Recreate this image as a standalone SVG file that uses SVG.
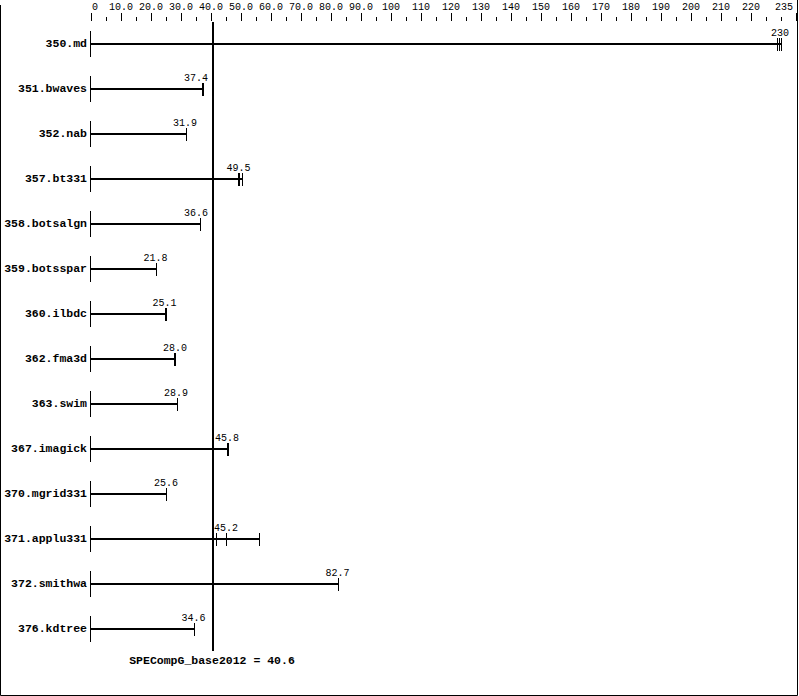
<svg xmlns="http://www.w3.org/2000/svg" width="799" height="696" viewBox="0 0 799 696">
<style>
.ax{font-family:"Liberation Mono","DejaVu Sans Mono",monospace;font-size:10px;fill:#000;text-anchor:middle}
.val{font-family:"Liberation Mono","DejaVu Sans Mono",monospace;font-size:10px;fill:#000;text-anchor:middle}
.lbl{font-family:"Liberation Mono","DejaVu Sans Mono",monospace;font-size:11.5px;font-weight:bold;fill:#000;text-anchor:end}
.ref{font-family:"Liberation Mono","DejaVu Sans Mono",monospace;font-size:11.5px;font-weight:bold;fill:#000;text-anchor:middle}
.bar{stroke:#000;stroke-width:2;fill:none}
.tk{stroke:#000;stroke-width:1;fill:none}
.tk2{stroke:#000;stroke-width:2;fill:none}
</style>
<defs>
<path id="lt" d="M0,-13 V13" class="tk"/>
</defs>
<rect x="0" y="0" width="799" height="696" fill="#fff"/>
<path d="M0.5,5 V695.5 H797.5 V0" fill="none" stroke="#000" stroke-width="1"/>
<g id="axis">
<path class="tk" d="M91.5,13V21M106.5,17V21M121.5,13V21M136.5,17V21M151.5,13V21M166.5,17V21M181.5,13V21M196.5,17V21M211.5,13V21M226.5,17V21M241.5,13V21M256.5,17V21M271.5,13V21M286.5,17V21M301.5,13V21M316.5,17V21M331.5,13V21M346.5,17V21M361.5,13V21M376.5,17V21M391.5,13V21M406.5,17V21M421.5,13V21M436.5,17V21M451.5,13V21M466.5,17V21M481.5,13V21M496.5,17V21M511.5,13V21M526.5,17V21M541.5,13V21M556.5,17V21M571.5,13V21M586.5,17V21M601.5,13V21M616.5,17V21M631.5,13V21M646.5,17V21M661.5,13V21M676.5,17V21M691.5,13V21M706.5,17V21M721.5,13V21M736.5,17V21M751.5,13V21M766.5,17V21M781.5,17V21M796.5,13V21"/>
<text class="ax" x="95" y="10">0</text>
<text class="ax" x="121" y="10">10.0</text>
<text class="ax" x="151" y="10">20.0</text>
<text class="ax" x="181" y="10">30.0</text>
<text class="ax" x="211" y="10">40.0</text>
<text class="ax" x="241" y="10">50.0</text>
<text class="ax" x="271" y="10">60.0</text>
<text class="ax" x="301" y="10">70.0</text>
<text class="ax" x="331" y="10">80.0</text>
<text class="ax" x="361" y="10">90.0</text>
<text class="ax" x="391" y="10">100</text>
<text class="ax" x="421" y="10">110</text>
<text class="ax" x="451" y="10">120</text>
<text class="ax" x="481" y="10">130</text>
<text class="ax" x="511" y="10">140</text>
<text class="ax" x="541" y="10">150</text>
<text class="ax" x="571" y="10">160</text>
<text class="ax" x="601" y="10">170</text>
<text class="ax" x="631" y="10">180</text>
<text class="ax" x="661" y="10">190</text>
<text class="ax" x="691" y="10">200</text>
<text class="ax" x="721" y="10">210</text>
<text class="ax" x="751" y="10">220</text>
<text class="ax" x="784" y="10">235</text>
</g>
<g id="connectors">
<line x1="213" y1="22" x2="213" y2="651" stroke="#000" stroke-width="2"/>
</g>
<g id="r350"><text class="lbl" x="87" y="47">350.md</text><use href="#lt" x="90.5" y="44"/><line class="bar" x1="91" y1="44" x2="782" y2="44"/><path class="tk" d="M777.5,38V51M779.5,38V51M781.5,38V51"/><text class="val" x="780" y="36">230</text></g>
<g id="r351"><text class="lbl" x="87" y="92">351.bwaves</text><use href="#lt" x="90.5" y="89"/><line class="bar" x1="91" y1="89" x2="203" y2="89"/><path class="tk2" d="M203,83V96"/><text class="val" x="196" y="81">37.4</text></g>
<g id="r352"><text class="lbl" x="87" y="137">352.nab</text><use href="#lt" x="90.5" y="134"/><line class="bar" x1="91" y1="134" x2="186" y2="134"/><path class="tk" d="M186.5,128V141"/><text class="val" x="185" y="126">31.9</text></g>
<g id="r357"><text class="lbl" x="87" y="182">357.bt331</text><use href="#lt" x="90.5" y="179"/><line class="bar" x1="91" y1="179" x2="243" y2="179"/><path class="tk2" d="M239,173V186"/><path class="tk" d="M242.5,173V186"/><text class="val" x="238.5" y="171">49.5</text></g>
<g id="r358"><text class="lbl" x="87" y="227">358.botsalgn</text><use href="#lt" x="90.5" y="224"/><line class="bar" x1="91" y1="224" x2="200" y2="224"/><path class="tk" d="M200.5,218V231"/><text class="val" x="196" y="216">36.6</text></g>
<g id="r359"><text class="lbl" x="87" y="272">359.botsspar</text><use href="#lt" x="90.5" y="269"/><line class="bar" x1="91" y1="269" x2="156" y2="269"/><path class="tk" d="M156.5,263V276"/><text class="val" x="155.5" y="261">21.8</text></g>
<g id="r360"><text class="lbl" x="87" y="317">360.ilbdc</text><use href="#lt" x="90.5" y="314"/><line class="bar" x1="91" y1="314" x2="166" y2="314"/><path class="tk2" d="M166,308V321"/><text class="val" x="164.5" y="306">25.1</text></g>
<g id="r362"><text class="lbl" x="87" y="362">362.fma3d</text><use href="#lt" x="90.5" y="359"/><line class="bar" x1="91" y1="359" x2="175" y2="359"/><path class="tk2" d="M175,353V366"/><text class="val" x="175" y="351">28.0</text></g>
<g id="r363"><text class="lbl" x="87" y="407">363.swim</text><use href="#lt" x="90.5" y="404"/><line class="bar" x1="91" y1="404" x2="177" y2="404"/><path class="tk" d="M177.5,398V411"/><text class="val" x="176" y="396">28.9</text></g>
<g id="r367"><text class="lbl" x="87" y="452">367.imagick</text><use href="#lt" x="90.5" y="449"/><line class="bar" x1="91" y1="449" x2="228" y2="449"/><path class="tk2" d="M228,443V456"/><text class="val" x="227" y="441">45.8</text></g>
<g id="r370"><text class="lbl" x="87" y="497">370.mgrid331</text><use href="#lt" x="90.5" y="494"/><line class="bar" x1="91" y1="494" x2="167" y2="494"/><path class="tk" d="M166.5,488V501"/><text class="val" x="166" y="486">25.6</text></g>
<g id="r371"><text class="lbl" x="87" y="542">371.applu331</text><use href="#lt" x="90.5" y="539"/><line class="bar" x1="91" y1="539" x2="259" y2="539"/><path class="tk" d="M216.5,533V546M226.5,533V546M259.5,533V546"/><text class="val" x="226" y="531">45.2</text></g>
<g id="r372"><text class="lbl" x="87" y="587">372.smithwa</text><use href="#lt" x="90.5" y="584"/><line class="bar" x1="91" y1="584" x2="338" y2="584"/><path class="tk" d="M338.5,578V591"/><text class="val" x="337.5" y="576">82.7</text></g>
<g id="r376"><text class="lbl" x="87" y="632">376.kdtree</text><use href="#lt" x="90.5" y="629"/><line class="bar" x1="91" y1="629" x2="194" y2="629"/><path class="tk" d="M194.5,623V636"/><text class="val" x="193.5" y="621">34.6</text></g>
<g id="reference"><text class="ref" x="212" y="664">SPECompG_base2012 = 40.6</text></g>
</svg>
